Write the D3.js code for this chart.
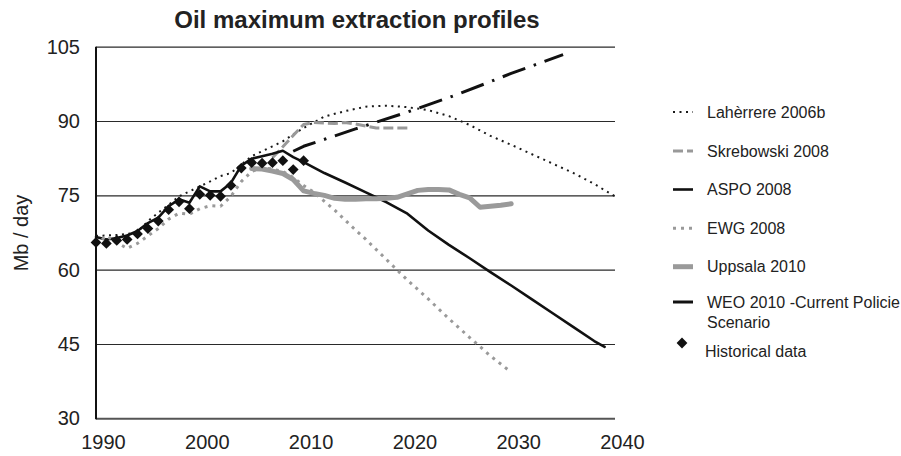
<!DOCTYPE html>
<html><head><meta charset="utf-8">
<script src="https://cdn.jsdelivr.net/npm/d3@7"></script>
<style>body{margin:0;background:#fff;}svg{display:block;font-family:"Liberation Sans",Arial,sans-serif;}</style>
</head><body><svg id="c" width="901" height="456"></svg>
<script>
const title = "Oil  maximum extraction profiles";
const yLabel = "Mb / day";
const xTicks = [1990, 2000, 2010, 2020, 2030, 2040];
const yTicks = [30, 45, 60, 75, 90, 105];

const histYears = [1990,1991,1992,1993,1994,1995,1996,1997,1998,1999,2000,2001,2002,2003,2004,2005,2006,2007,2008,2009,2010];
const histValues = [65.5,65.3,65.9,66.1,67.2,68.3,69.8,72.1,73.7,72.3,75.2,75.0,74.8,77.0,80.5,81.6,81.5,81.6,82.0,80.2,82.0];

const lahYears = [1990,1992,1993,1994,1995,1996,1997,1998,1999,2000,2001,2002,2003,2004,2005,2006,2007,2008,2009,2010,2012,2014,2016,2018,2020,2022,2024,2026,2028,2030,2032,2034,2036,2038,2040];
const lahValues = [66.8,67.0,67.2,67.6,69.8,71.5,73.1,74.8,75.8,76.8,77.8,78.9,79.5,81.2,82.9,83.9,84.9,85.9,87.3,88.6,90.9,92.0,92.9,93.1,92.8,92.2,91.0,89.2,87.0,85.2,83.3,81.4,79.5,77.3,74.8];

const skrYears = [2007,2008,2009,2010,2011,2012,2013,2014,2015,2016,2017,2018,2019,2020];
const skrValues = [82.6,84.8,87.1,89.3,89.7,89.6,89.5,89.7,89.4,89.0,88.6,88.6,88.6,88.6];

const aspoYears = [1990,1991,1992,1993,1994,1995,1996,1997,1998,1999,2000,2001,2002,2003,2004,2005,2006,2007,2008,2009,2010,2012,2014,2016,2018,2020,2022,2024,2026,2028,2030,2032,2034,2036,2038,2039];
const aspoValues = [66.6,66.1,66.4,66.9,67.8,69.4,70.5,72.8,74.2,73.5,76.8,75.8,75.8,77.5,81.0,82.4,82.9,83.4,84.0,82.7,81.7,79.5,77.6,75.6,73.6,71.3,67.9,65.0,62.3,59.5,56.8,54.0,51.2,48.4,45.6,44.4];

const ewgYears = [1990,1991,1992,1993,1994,1995,1996,1997,1998,1999,2000,2001,2002,2003,2004,2005,2006,2007,2008,2009,2010,2011,2012,2013,2014,2015,2016,2018,2020,2022,2024,2026,2028,2030];
const ewgValues = [65.0,66.8,65.5,64.3,65.3,66.8,68.3,70.2,71.4,71.2,72.3,72.9,72.8,74.8,77.8,79.8,80.6,80.3,79.8,78.6,77.0,75.6,73.8,72.0,70.0,68.0,66.1,62.0,57.9,54.1,50.1,46.3,42.6,39.3];

const uppYears = [2005,2006,2007,2008,2009,2010,2011,2012,2013,2014,2015,2016,2017,2018,2019,2020,2021,2022,2023,2024,2025,2026,2027,2028,2029,2030];
const uppValues = [80.4,80.3,79.9,79.4,78.2,75.9,75.4,75.0,74.4,74.2,74.2,74.3,74.3,74.4,74.6,75.3,76.0,76.2,76.2,76.1,75.2,74.5,72.6,72.8,73.0,73.3];

const weoYears = [2009,2010,2015,2020,2025,2030,2035];
const weoValues = [83.9,84.9,88.4,91.8,95.5,99.6,103.4];

const seriesNames = ["Lahèrrere 2006b","Skrebowski 2008","ASPO 2008","EWG 2008","Uppsala 2010","WEO 2010 -Current Policie|Scenario","Historical data"];

const svg = d3.select("#c");
const x = d3.scaleLinear().domain([1990, 2040]).range([96, 615]);
const y = d3.scaleLinear().domain([30, 105]).range([418.3, 46.7]);

// gridlines
const yAxis = d3.axisLeft(y).tickValues(yTicks).tickSize(-(615-96)).tickPadding(16).tickFormat(d3.format("d"));
const gy = svg.append("g").attr("transform","translate(96,0)").call(yAxis);
gy.select(".domain").remove();
gy.selectAll(".tick line").attr("stroke","#2a2a2a").attr("stroke-width",1.2);
gy.selectAll(".tick text").attr("font-size",20).attr("fill","#222").attr("font-family","Liberation Sans, Arial, sans-serif");
gy.selectAll(".tick").filter(d=>d===30).select("line").attr("stroke","#555").attr("stroke-width",2);

const xAxis = d3.axisBottom(x).tickValues(xTicks).tickSize(0).tickPadding(17).tickFormat(d3.format("d"));
const gx = svg.append("g").attr("transform","translate(7,418.3)").call(xAxis);
gx.select(".domain").remove();
gx.selectAll(".tick text").attr("font-size",20).attr("fill","#222").attr("font-family","Liberation Sans, Arial, sans-serif");

// left axis line
svg.append("line").attr("x1",96).attr("x2",96).attr("y1",y(105)).attr("y2",y(30)+1).attr("stroke","#111").attr("stroke-width",2);

// title and y label
svg.append("text").attr("x",357).attr("y",28).attr("text-anchor","middle").attr("font-size",24).attr("font-weight","bold").attr("fill","#222").text(title);
svg.append("text").attr("transform","translate(28,233) rotate(-90)").attr("text-anchor","middle").attr("font-size",20).attr("fill","#222").text(yLabel);

const line = d3.line().x(d=>x(d[0])).y(d=>y(d[1]));
const zip = (a,b)=>a.map((v,i)=>[v,b[i]]);

const styles = [
  {data: zip(lahYears, lahValues), stroke:"#1a1a1a", w:2, dash:"2,4.5", cap:"butt"},
  {data: zip(skrYears, skrValues), stroke:"#999", w:3, dash:"10,4", cap:"butt"},
  {data: zip(aspoYears, aspoValues), stroke:"#111", w:2.6, dash:null, cap:"round"},
  {data: zip(ewgYears, ewgValues), stroke:"#9a9a9a", w:3, dash:"3,5", cap:"butt"},
  {data: zip(uppYears, uppValues), stroke:"#9a9a9a", w:5, dash:null, cap:"round"},
  {data: zip(weoYears, weoValues), stroke:"#111", w:3, dash:"24,9,2.5,9", cap:"butt"}
];
styles.forEach(s=>{
  svg.append("path").datum(s.data).attr("d",line).attr("fill","none")
    .attr("stroke",s.stroke).attr("stroke-width",s.w).attr("stroke-linecap",s.cap)
    .attr("stroke-linejoin","round").attr("stroke-dasharray",s.dash);
});

const diamond = d3.symbol().type(d3.symbolSquare).size(58);
svg.append("g").selectAll("path").data(zip(histYears, histValues)).join("path")
  .attr("d",diamond).attr("fill","#111")
  .attr("transform",d=>`translate(${x(d[0])},${y(d[1])}) rotate(45)`);

// legend
const legY = [112, 151, 189.5, 228.3, 266.7, 302];
const lg = svg.append("g");
styles.forEach((s,i)=>{
  lg.append("line").attr("x1",673).attr("x2",693).attr("y1",legY[i]).attr("y2",legY[i])
    .attr("stroke",s.stroke).attr("stroke-width",s.w).attr("stroke-dasharray",s.dash);
  const parts = seriesNames[i].split("|");
  parts.forEach((p,j)=>{
    lg.append("text").attr("x",707).attr("y",legY[i]+j*20).attr("dy","0.35em")
      .attr("font-size",16).attr("fill","#222").text(p);
  });
});
lg.append("path").attr("d",diamond).attr("fill","#111").attr("transform","translate(682,343) rotate(45)");
lg.append("text").attr("x",705).attr("y",351.7).attr("dy","0.35em").attr("font-size",16).attr("fill","#222").text(seriesNames[6]);
</script></body></html>
